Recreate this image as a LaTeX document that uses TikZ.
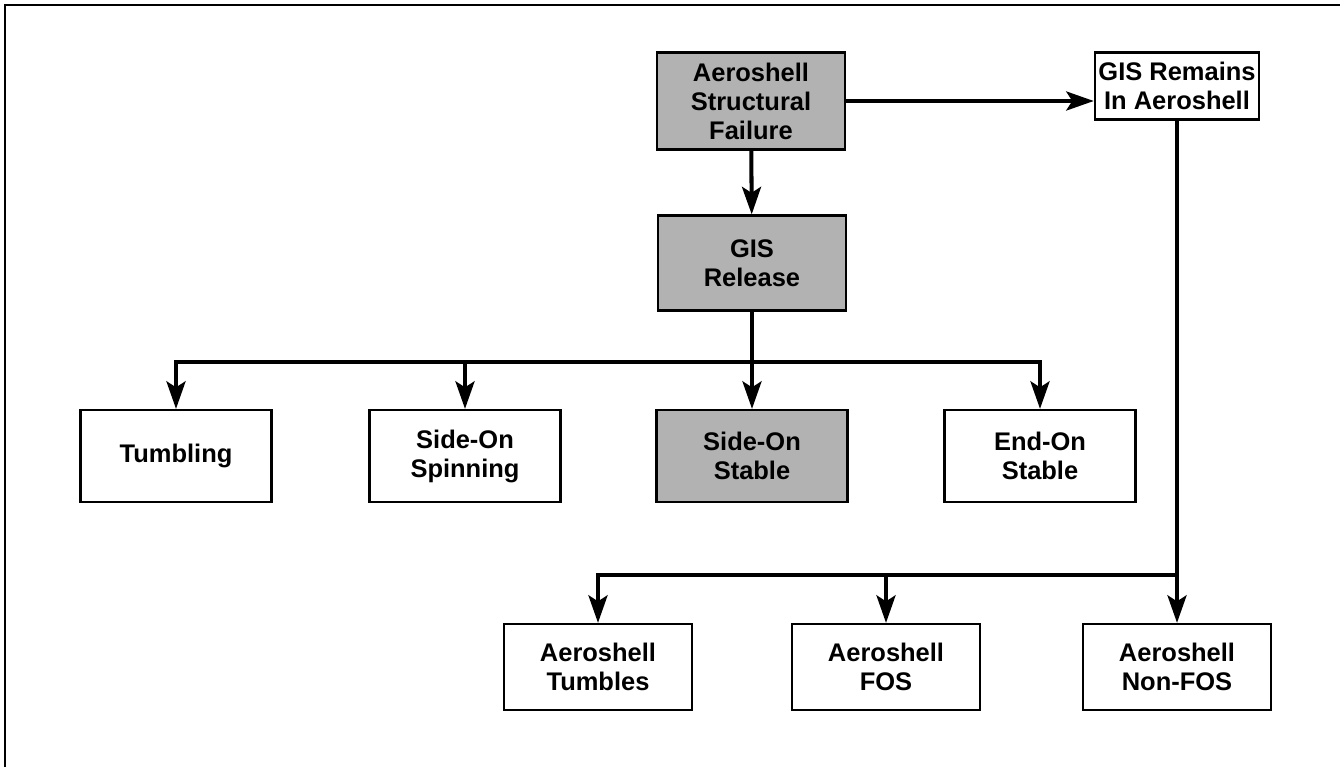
\documentclass[tikz,border=0pt]{standalone}
\usepackage{fontspec}
\setmainfont{Liberation Sans}
\usetikzlibrary{arrows.meta, positioning}

\tikzset{
  box/.style={draw, line width=1.3pt, align=center, inner sep=2pt,
    font=\fontsize{14.5}{16.5}\selectfont\bfseries},
  shaded/.style={box, fill=black!30},
  rowone/.style={minimum width=3.82cm, minimum height=1.84cm},
  rowtwo/.style={minimum width=3.76cm, minimum height=1.72cm},
  link/.style={line width=2.3pt, -{Stealth[length=0.55cm,width=0.38cm,inset=0.12cm]}},
  bar/.style={line width=2.3pt, line cap=rect},
}

\begin{document}
\begin{tikzpicture}[x=0.02cm, y=-0.02cm]
  \useasboundingbox (0,0) rectangle (1344,767);
  % frame
  \draw[line width=1.6pt] (5,767) -- (5,5) -- (1340,5);

  % top boxes
  \node[shaded, minimum width=3.76cm, minimum height=1.94cm] (fail) at (751,101) {Aeroshell\\Structural\\Failure};
  \node[shaded, minimum width=3.76cm, minimum height=1.9cm] (rel) at (752,263) {GIS\\Release};
  \node[box, minimum width=3.2cm, minimum height=1.34cm] (remain) at (1177,86) {GIS Remains\\In Aeroshell};

  % release modes
  \node[box, rowone] (tumb) at (176,456) {Tumbling};
  \node[box, rowone] (spin) at (465,456) {Side-On\\Spinning};
  \node[shaded, rowone] (stab) at (752,456) {Side-On\\Stable};
  \node[box, rowone] (endon) at (1040,456) {End-On\\Stable};

  % aeroshell modes
  \node[box, rowtwo] (atumb) at (598,667) {Aeroshell\\Tumbles};
  \node[box, rowtwo] (afos) at (886,667) {Aeroshell\\FOS};
  \node[box, rowtwo] (nonfos) at (1177,667) {Aeroshell\\Non-FOS};

  % connectors
  \draw[link] (fail) -- (rel);
  \draw[link] (fail.east) -- (fail.east -| remain.west);

  \coordinate (bus1) at (0,362);
  \draw[bar] (rel) -- (rel |- bus1);
  \draw[bar] (tumb |- bus1) -- (endon |- bus1);
  \foreach \n in {tumb,spin,stab,endon} {
    \draw[link] (\n |- bus1) -- (\n);
  }

  \coordinate (bus2) at (0,575);
  \draw[bar] (remain) -- (remain |- bus2);
  \draw[bar] (atumb |- bus2) -- (nonfos |- bus2);
  \foreach \n in {atumb,afos,nonfos} {
    \draw[link] (\n |- bus2) -- (\n);
  }
\end{tikzpicture}
\end{document}
